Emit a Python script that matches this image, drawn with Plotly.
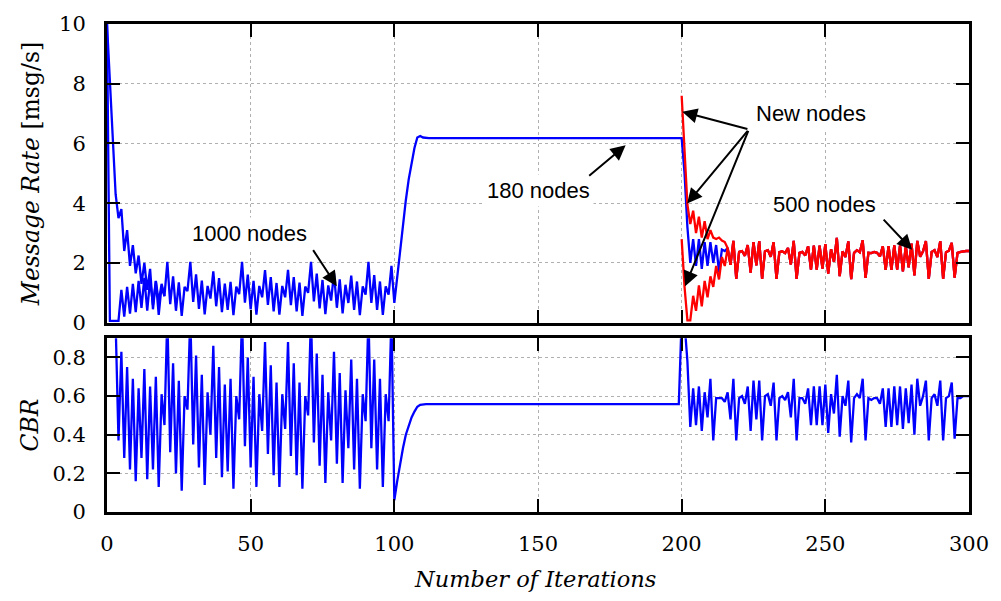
import plotly.graph_objects as go

# ---------------- data ----------------
# Message rate per iteration, 1000-node phase (iterations 0..99), main node group
rate_1000 = [10.0, 8.0, 6.0, 4.3, 3.5, 3.8, 2.4, 3.1, 1.9, 2.6, 1.65, 2.25, 1.3, 2.0, 1.1, 1.8,
             0.45, 1.39, 0.26, 1.23, 0.89, 2.04, 0.62, 1.55, 0.40, 1.35,
             0.23, 1.20, 1.06, 2.04, 0.70, 1.62, 0.46, 1.41, 0.28, 1.23,
             0.81, 1.72, 0.55, 1.49, 0.35, 1.31, 0.43, 1.37, 0.25, 1.21,
             0.96, 2.04, 0.67, 1.61, 0.45, 1.40, 0.27, 1.23, 0.85, 1.76,
             0.60, 1.53, 0.38, 1.33, 0.27, 1.23, 0.85, 1.77, 0.59, 1.53,
             0.38, 1.34, 0.23, 1.21, 1.00, 2.04, 0.71, 1.64, 0.48, 1.43,
             0.29, 1.25, 0.74, 1.66, 0.50, 1.45, 0.31, 1.27, 0.66, 1.58,
             0.43, 1.38, 0.25, 1.22, 0.94, 2.04, 0.66, 1.59, 0.43, 1.38,
             0.26, 1.22, 0.94, 1.9]
# second node group during the start-up transient (iterations 0..20)
rate_1000_b = [10.0, 0.06, 0.06, 0.06, 0.06, 1.1, 0.2, 1.2, 0.3, 1.3, 0.35,
               1.4, 0.5, 1.5, 0.4, 1.45, 0.6, 1.4, 0.7, 1.3, 0.89]
# 180-node phase (iterations 100..199); plateau read as 6.18
rate_180 = [0.66, 1.55, 2.4, 3.3, 4.1, 4.8, 5.4, 5.85, 6.2, 6.25, 6.2] + [6.18] * 89
# 500-node phase (iterations 200..300), existing nodes
rate_500 = [6.18, 5.0, 3.2, 2.0, 2.8, 1.9, 2.8, 1.8, 2.7, 1.9, 2.7, 2.0, 2.6, 1.7, 2.45, 2.4,
            2.50, 1.94, 2.74, 1.47, 2.37, 2.40, 2.24, 2.60, 1.68, 2.70,
            1.92, 2.73, 1.47, 2.39, 2.43, 2.21, 2.69, 1.47, 2.36, 2.39,
            2.33, 2.50, 1.95, 2.74, 1.47, 2.34, 2.37, 2.25, 2.56, 1.78,
            2.58, 1.78, 2.58, 1.81, 2.63, 1.64, 2.46, 2.04, 2.84, 1.56,
            2.39, 2.20, 2.72, 1.46, 2.34, 2.43, 2.36, 2.76, 1.50, 2.34,
            2.33, 2.37, 2.34, 2.22, 2.56, 1.77, 2.56, 1.77, 2.59, 1.78,
            2.59, 1.72, 2.56, 1.85, 2.65, 1.58, 2.74, 2.21, 2.39, 2.73,
            1.47, 2.37, 2.43, 2.20, 2.73, 1.47, 2.36, 2.41, 2.67, 1.51,
            2.34, 2.37, 2.39, 2.40, 2.40]
# newly joined nodes, transient part (iterations 200..215); afterwards they follow rate_500
new_hi_head = [7.6, 5.8, 3.95, 3.3, 3.75, 3.0, 3.55, 2.85, 3.4, 2.8, 3.1, 2.85, 2.8, 2.85, 2.75, 2.7]
new_lo_head = [2.8, 1.2, 0.08, 0.08, 0.9, 0.4, 1.25, 0.55, 1.4, 0.85, 1.55, 1.2, 1.9, 1.45, 2.2, 1.9]

# Channel busy ratio per iteration
cbr_1000 = [1.0, 1.0, 1.0, 0.98,
            0.37, 0.83, 0.28, 0.75, 0.22, 0.69, 0.16, 0.64, 0.28, 0.74,
            0.17, 0.65, 0.22, 0.70, 0.13, 0.61, 0.45, 1.02, 0.31, 0.77,
            0.20, 0.68, 0.11, 0.60, 0.53, 1.02, 0.35, 0.81, 0.23, 0.71,
            0.14, 0.62, 0.40, 0.86, 0.28, 0.75, 0.18, 0.66, 0.21, 0.69,
            0.12, 0.60, 0.48, 1.02, 0.34, 0.80, 0.23, 0.70, 0.13, 0.61,
            0.42, 0.88, 0.30, 0.76, 0.19, 0.67, 0.13, 0.61, 0.43, 0.88,
            0.29, 0.77, 0.19, 0.67, 0.12, 0.60, 0.50, 1.02, 0.36, 0.82,
            0.24, 0.71, 0.15, 0.62, 0.37, 0.83, 0.25, 0.72, 0.15, 0.63,
            0.33, 0.79, 0.22, 0.69, 0.12, 0.61, 0.47, 1.02, 0.33, 0.79,
            0.22, 0.69, 0.13, 0.61, 0.47, 1.02]
cbr_180 = [0.06, 0.16, 0.25, 0.33, 0.40, 0.45, 0.49, 0.52, 0.545, 0.555, 0.558] + [0.558] * 89
cbr_500 = [1.0, 0.98, 0.78,
           0.44, 0.64, 0.45, 0.65, 0.42, 0.62, 0.49, 0.69, 0.37, 0.59,
           0.59, 0.59, 0.57, 0.62, 0.48, 0.69, 0.37, 0.59, 0.60, 0.56,
           0.65, 0.42, 0.68, 0.48, 0.68, 0.37, 0.60, 0.61, 0.55, 0.67,
           0.37, 0.59, 0.60, 0.58, 0.62, 0.49, 0.69, 0.37, 0.59, 0.59,
           0.56, 0.64, 0.45, 0.65, 0.45, 0.65, 0.45, 0.66, 0.41, 0.61,
           0.51, 0.71, 0.39, 0.60, 0.55, 0.68, 0.36, 0.59, 0.61, 0.59,
           0.69, 0.37, 0.59, 0.58, 0.59, 0.59, 0.56, 0.64, 0.44, 0.64,
           0.44, 0.65, 0.45, 0.65, 0.43, 0.64, 0.46, 0.66, 0.40, 0.69,
           0.55, 0.60, 0.68, 0.37, 0.59, 0.61, 0.55, 0.68, 0.37, 0.59,
           0.60, 0.67, 0.38, 0.59, 0.59, 0.60,
           0.60, 0.60]

x_ticks = [0, 50, 100, 150, 200, 250, 300]
rate_ticks = [0, 2, 4, 6, 8, 10]
cbr_ticks = [0, 0.2, 0.4, 0.6, 0.8]
cbr_tick_text = ["0", "0.2", "0.4", "0.6", "0.8"]

# ---------------- series assembly ----------------
rate_all = rate_1000 + rate_180 + rate_500
iters_all = list(range(len(rate_all)))
cbr_all = cbr_1000 + cbr_180 + cbr_500
iters_cbr = list(range(len(cbr_all)))
n_head = len(new_hi_head)
new_hi = new_hi_head + rate_500[n_head:]
new_lo = new_lo_head + rate_500[n_head:]
iters_new = list(range(200, 200 + len(new_hi)))

BLUE = "#0000ff"
RED = "#ff0000"
SERIF = "DejaVu Serif"
SANS = "Liberation Sans"
LW = 2.3

fig = go.Figure()
fig.add_trace(go.Scatter(x=iters_all, y=rate_all, mode="lines",
                         line=dict(color=BLUE, width=LW), xaxis="x2", yaxis="y2"))
fig.add_trace(go.Scatter(x=list(range(len(rate_1000_b))), y=rate_1000_b, mode="lines",
                         line=dict(color=BLUE, width=LW), xaxis="x2", yaxis="y2"))
fig.add_trace(go.Scatter(x=iters_new, y=new_lo, mode="lines",
                         line=dict(color=RED, width=LW), xaxis="x2", yaxis="y2"))
fig.add_trace(go.Scatter(x=iters_new, y=new_hi, mode="lines",
                         line=dict(color=RED, width=LW), xaxis="x2", yaxis="y2"))
fig.add_trace(go.Scatter(x=iters_cbr, y=cbr_all, mode="lines",
                         line=dict(color=BLUE, width=LW), xaxis="x", yaxis="y"))

axis_common = dict(
    showline=True, linecolor="black", linewidth=3, mirror="ticks",
    ticks="inside", ticklen=13, tickwidth=2.2, tickcolor="black",
    showgrid=True, gridcolor="#b0b0b0", gridwidth=1, griddash="dot",
    zeroline=False, tickfont=dict(family=SERIF, size=21, color="black"),
)

fig.update_layout(
    width=1001, height=601,
    margin=dict(l=107, r=28, t=17, b=89),
    paper_bgcolor="white", plot_bgcolor="white",
    showlegend=False,
    xaxis=dict(domain=[0, 1], range=[0, 300], anchor="y", tickvals=x_ticks,
               ticklabelstandoff=11, **axis_common),
    xaxis2=dict(domain=[0, 1], range=[0, 300], anchor="y2", matches="x",
                tickvals=x_ticks, showticklabels=False, **axis_common),
    yaxis=dict(domain=[0, 0.3562], range=[0, 0.9], anchor="x", tickvals=cbr_ticks,
               ticktext=cbr_tick_text, ticklabelstandoff=14, **axis_common),
    yaxis2=dict(domain=[0.3879, 1], range=[0, 10], anchor="x2", tickvals=rate_ticks,
                ticklabelstandoff=14, **axis_common),
)

title_font = dict(family=SERIF, size=23.5, color="black")
fig.add_annotation(text="<i>Message Rate</i> [msg/s]", xref="paper", yref="paper",
                   x=-0.0889, y=0.693, textangle=-90, showarrow=False,
                   xanchor="center", yanchor="middle", font=title_font)
fig.add_annotation(text="<i>CBR</i>", xref="paper", yref="paper",
                   x=-0.0889, y=0.178, textangle=-90, showarrow=False,
                   xanchor="center", yanchor="middle", font=title_font)
fig.add_annotation(text="<i>Number of Iterations</i>", xref="paper", yref="paper",
                   x=0.4965, y=-0.137, showarrow=False,
                   xanchor="center", yanchor="middle",
                   font=dict(family=SERIF, size=22.5, color="black"))

label_font = dict(family=SANS, size=22, color="black")
labels = [("1000 nodes", 49.5, 3.0), ("180 nodes", 150.0, 4.42),
          ("New nodes", 244.9, 7.0), ("500 nodes", 249.7, 3.96)]
for text, lx, ly in labels:
    fig.add_annotation(text=text, x=lx, y=ly, xref="x2", yref="y2", showarrow=False,
                       font=label_font, bgcolor="white", borderpad=3)

# arrows: (tail x, tail y, head x, head y) in data units of the upper panel
arrows = [(71.4, 2.48, 80.0, 1.22),
          (167.3, 4.88, 180.5, 5.94),
          (223.4, 6.47, 200.2, 7.06),
          (223.4, 6.47, 201.9, 3.99),
          (223.4, 6.47, 201.2, 1.22),
          (269.8, 3.5, 280.2, 2.44)]
for tx, ty, hx, hy in arrows:
    fig.add_annotation(text="", x=hx, y=hy, ax=tx, ay=ty, xref="x2", yref="y2",
                       axref="x2", ayref="y2", showarrow=True, arrowhead=2,
                       arrowsize=1.5, arrowwidth=2, arrowcolor="black", standoff=0)

fig.write_html("out.html")
